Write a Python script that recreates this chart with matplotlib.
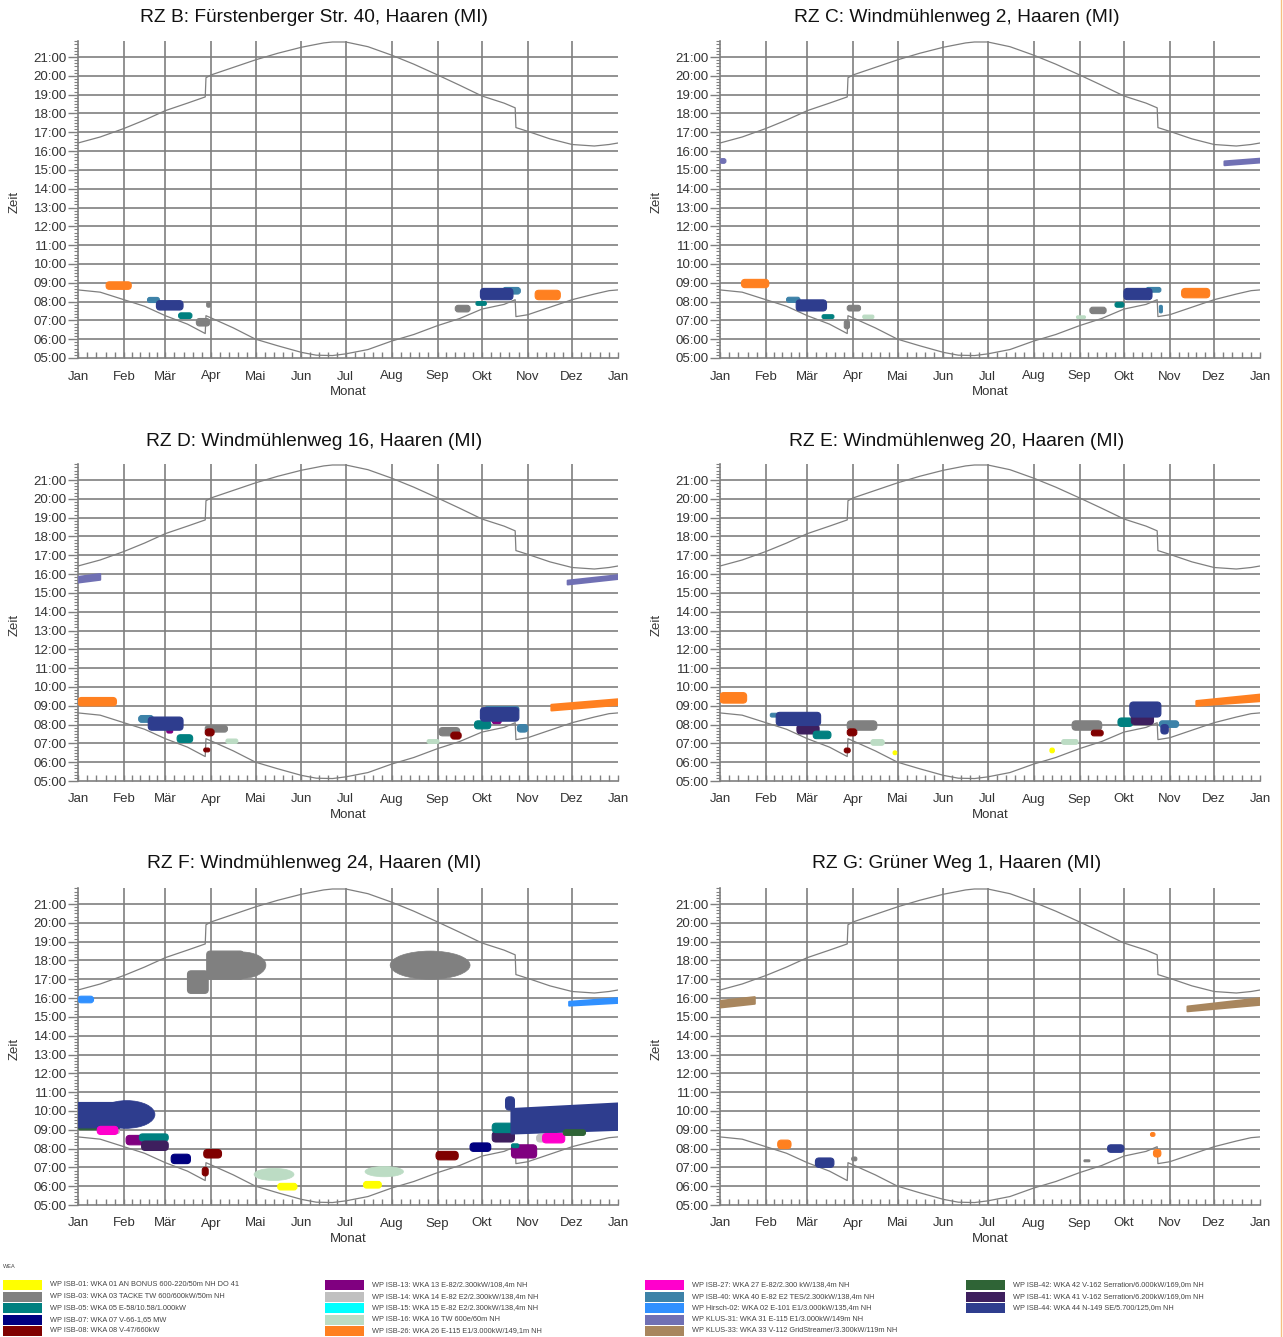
import matplotlib
matplotlib.use("Agg")
import matplotlib.pyplot as plt
from matplotlib.patches import Ellipse, Rectangle, FancyBboxPatch
from matplotlib.ticker import FixedLocator, MultipleLocator, FuncFormatter

plt.rcParams["font.family"] = ["Liberation Sans", "DejaVu Sans"]

W, H = 1283, 1337

MONTH_STARTS = [0, 31, 59, 90, 120, 151, 181, 212, 243, 273, 304, 334, 365]
MONTH_LABELS = ["Jan", "Feb", "Mär", "Apr", "Mai", "Jun", "Jul", "Aug",
                "Sep", "Okt", "Nov", "Dez", "Jan"]

# sunrise / sunset (day of year, decimal hour); duplicated days are the DST switches
SUNRISE_DAY = [0, 15, 31, 45, 59, 74, 86, 86.5, 90, 105, 120, 135, 151, 161, 172,
               181, 196, 212, 227, 243, 258, 273, 288, 295.5, 296, 304, 319, 334,
               349, 359, 365]
SUNRISE_H = [8.62, 8.5, 8.1, 7.75, 7.25, 6.8, 6.3, 7.25, 7.13, 6.6, 6.0, 5.65,
             5.3, 5.15, 5.13, 5.22, 5.45, 5.9, 6.25, 6.72, 7.1, 7.6, 7.85, 8.1,
             7.2, 7.3, 7.7, 8.1, 8.4, 8.58, 8.62]
SUNSET_DAY = [0, 15, 31, 45, 59, 74, 86, 86.5, 90, 105, 120, 135, 151, 166, 172,
              181, 196, 212, 227, 243, 258, 273, 288, 295.5, 296, 304, 319, 334,
              349, 359, 365]
SUNSET_H = [16.43, 16.75, 17.2, 17.65, 18.15, 18.55, 18.88, 19.9, 20.05, 20.45,
            20.85, 21.2, 21.52, 21.75, 21.8, 21.8, 21.55, 21.1, 20.62, 20.05,
            19.5, 18.93, 18.55, 18.3, 17.25, 17.05, 16.65, 16.35, 16.27, 16.35,
            16.43]

TURBINES = [
    ("01", "#ffff00", "WP ISB-01: WKA 01 AN BONUS 600-220/50m NH DO 41"),
    ("03", "#808080", "WP ISB-03: WKA 03 TACKE TW 600/600kW/50m NH"),
    ("05", "#008080", "WP ISB-05: WKA 05 E-58/10.58/1.000kW"),
    ("07", "#000080", "WP ISB-07: WKA 07 V-66-1,65 MW"),
    ("08", "#800000", "WP ISB-08: WKA 08 V-47/660kW"),
    ("13", "#800080", "WP ISB-13: WKA 13 E-82/2.300kW/108,4m NH"),
    ("14", "#c0c0c0", "WP ISB-14: WKA 14 E-82 E2/2.300kW/138,4m NH"),
    ("15", "#00ffff", "WP ISB-15: WKA 15 E-82 E2/2.300kW/138,4m NH"),
    ("16", "#bcdcc4", "WP ISB-16: WKA 16 TW 600e/60m NH"),
    ("26", "#ff8020", "WP ISB-26: WKA 26 E-115 E1/3.000kW/149,1m NH"),
    ("27", "#ff00cc", "WP ISB-27: WKA 27 E-82/2.300 kW/138,4m NH"),
    ("40", "#3d82a8", "WP ISB-40: WKA 40 E-82 E2 TES/2.300kW/138,4m NH"),
    ("H02", "#3090ff", "WP Hirsch-02: WKA 02 E-101 E1/3.000kW/135,4m NH"),
    ("K31", "#7070b4", "WP KLUS-31: WKA 31 E-115 E1/3.000kW/149m NH"),
    ("K33", "#a8865e", "WP KLUS-33: WKA 33 V-112 GridStreamer/3.300kW/119m NH"),
    ("42", "#2f6436", "WP ISB-42: WKA 42 V-162 Serration/6.000kW/169,0m NH"),
    ("41", "#3e1f5e", "WP ISB-41: WKA 41 V-162 Serration/6.200kW/169,0m NH"),
    ("44", "#2e3d8e", "WP ISB-44: WKA 44 N-149 SE/5.700/125,0m NH"),
]
COLORS = {k: c for k, c, _ in TURBINES}

# shadow periods: (shape, turbine, first day, last day, from h, to h[, from h end, to h end])
blobs_b = [
    ("box", "26", 19, 36, 8.65, 9.05),
    ("box", "40", 47, 55, 7.95, 8.22),
    ("box", "44", 53, 71, 7.55, 8.05),
    ("box", "05", 68, 77, 7.1, 7.4),
    ("box", "03", 80, 89, 6.7, 7.1),
    ("box", "03", 87, 89.5, 7.7, 8.0),
    ("box", "03", 255, 265, 7.45, 7.8),
    ("box", "05", 269, 276, 7.8, 8.0),
    ("box", "40", 287, 299, 8.4, 8.75),
    ("box", "44", 272, 294, 8.1, 8.7),
    ("box", "26", 309, 326, 8.1, 8.6),
]
blobs_c = [
    ("box", "K31", 0, 4, 15.35, 15.6),
    ("box", "K31", 341, 366, 15.25, 15.45, 15.4, 15.6),
    ("box", "26", 14.5, 33, 8.74, 9.18),
    ("box", "40", 45, 54, 7.96, 8.23),
    ("box", "44", 51.5, 72, 7.5, 8.09),
    ("box", "05", 69, 77, 7.1, 7.3),
    ("box", "03", 86, 95, 7.5, 7.8),
    ("box", "03", 84, 87.5, 6.55, 7.0),
    ("box", "16", 96.5, 104, 7.1, 7.28),
    ("box", "16", 241, 247, 7.1, 7.24),
    ("box", "03", 250, 261, 7.36, 7.7),
    ("box", "05", 267, 273, 7.7, 7.96),
    ("box", "40", 288, 298, 8.5, 8.75),
    ("box", "44", 273, 292, 8.1, 8.7),
    ("box", "40", 297, 299, 7.4, 7.8),
    ("box", "26", 312, 331, 8.2, 8.7),
]
blobs_d = [
    ("box", "K31", 0, 15, 15.55, 15.85, 15.7, 16.0),
    ("box", "K31", 331, 366, 15.45, 15.65, 15.75, 15.95),
    ("box", "26", 0, 26, 8.99, 9.44),
    ("box", "26", 320, 366, 8.75, 9.05, 9.05, 9.35),
    ("box", "40", 41, 51, 8.12, 8.48),
    ("box", "13", 60, 64, 7.55, 7.75),
    ("box", "44", 47.5, 71, 7.7, 8.4),
    ("box", "05", 67, 77.5, 7.05, 7.46),
    ("box", "08", 85, 89, 6.55, 6.75),
    ("box", "03", 86, 101, 7.6, 7.95),
    ("box", "08", 86, 92, 7.4, 7.77),
    ("box", "16", 100, 108, 7.0, 7.23),
    ("box", "16", 236, 244, 7.0, 7.2),
    ("box", "03", 244, 258, 7.4, 7.84),
    ("box", "08", 252, 259, 7.23, 7.6),
    ("box", "05", 268, 279, 7.77, 8.2),
    ("box", "40", 275, 298, 8.7, 8.95),
    ("box", "13", 280, 286, 8.05, 8.3),
    ("box", "44", 272, 298, 8.18, 8.9),
    ("box", "40", 297, 304, 7.6, 8.0),
]
blobs_e = [
    ("box", "26", 0, 18, 9.14, 9.7),
    ("box", "26", 322, 366, 9.0, 9.25, 9.25, 9.6),
    ("box", "40", 34, 47, 8.4, 8.6),
    ("box", "41", 52, 67, 7.5, 8.0),
    ("box", "44", 38, 68, 7.95, 8.65),
    ("box", "05", 63, 75, 7.25, 7.65),
    ("box", "03", 86, 106, 7.7, 8.2),
    ("box", "08", 86, 92.5, 7.4, 7.77),
    ("box", "08", 84, 88, 6.5, 6.75),
    ("box", "16", 102, 111, 6.9, 7.2),
    ("box", "01", 117, 119.5, 6.4, 6.6),
    ("box", "01", 223, 226, 6.5, 6.75),
    ("box", "16", 231, 242, 6.95, 7.2),
    ("box", "03", 238, 258, 7.7, 8.2),
    ("box", "08", 251, 259, 7.4, 7.7),
    ("box", "05", 269, 279, 7.9, 8.35),
    ("box", "41", 278, 293, 8.0, 8.55),
    ("box", "44", 277, 298, 8.4, 9.2),
    ("box", "40", 297, 310, 7.85, 8.2),
    ("box", "44", 298, 303, 7.5, 8.0),
]
blobs_f = [
    ("box", "H02", 0, 10.5, 15.75, 16.1),
    ("box", "H02", 332, 366, 15.6, 15.8, 15.75, 16.0),
    ("box", "03", 74, 88, 16.25, 17.45),
    ("box", "03", 87, 112, 17.0, 18.5),
    ("oval", "03", 95, 127, 17.05, 18.45),
    ("oval", "03", 211, 265, 17.0, 18.5),
    ("box", "42", 0, 28, 9.0, 9.27),
    ("box", "44", -5, 36, 9.1, 10.45),
    ("oval", "44", 14, 52, 9.08, 10.55),
    ("box", "14", 24, 28, 8.8, 9.0),
    ("box", "27", 13, 27, 8.75, 9.18),
    ("box", "13", 32.5, 48, 8.2, 8.7),
    ("box", "05", 41.5, 61, 8.4, 8.78),
    ("box", "41", 43, 61, 7.9, 8.4),
    ("box", "07", 63, 76, 7.2, 7.7),
    ("box", "08", 85, 97, 7.5, 7.95),
    ("box", "08", 84, 88, 6.55, 7.0),
    ("oval", "16", 119, 146, 6.3, 6.95),
    ("box", "01", 135, 148, 5.8, 6.15),
    ("box", "01", 193, 205, 5.9, 6.25),
    ("oval", "16", 194, 220, 6.5, 7.05),
    ("box", "08", 242, 257, 7.4, 7.85),
    ("box", "07", 265, 279, 7.85, 8.3),
    ("box", "41", 280, 295, 8.35, 8.9),
    ("box", "05", 280, 295, 8.85, 9.35),
    ("box", "44", 289, 295, 10.05, 10.75),
    ("box", "44", 293, 366, 8.8, 10.1, 9.0, 10.4),
    ("box", "13", 293, 310, 7.5, 8.2),
    ("box", "05", 293, 298, 8.05, 8.25),
    ("box", "14", 310, 316, 8.35, 8.75),
    ("box", "27", 314, 329, 8.3, 8.8),
    ("box", "42", 328, 343, 8.7, 9.0),
]
blobs_g = [
    ("box", "K33", 0, 23.5, 15.5, 15.85, 15.7, 16.05),
    ("box", "K33", 316, 366, 15.3, 15.55, 15.65, 16.0),
    ("box", "26", 39, 48, 8.0, 8.45),
    ("box", "44", 64.5, 77, 7.0, 7.5),
    ("box", "03", 89, 92.5, 7.35, 7.55),
    ("box", "03", 246, 250, 7.3, 7.4),
    ("box", "44", 262, 273, 7.8, 8.2),
    ("box", "26", 291, 294, 8.65, 8.85),
    ("box", "26", 293, 298, 7.55, 7.95),
]

PANELS = [
    ("RZ B: Fürstenberger Str. 40, Haaren (MI)", blobs_b),
    ("RZ C: Windmühlenweg 2, Haaren (MI)", blobs_c),
    ("RZ D: Windmühlenweg 16, Haaren (MI)", blobs_d),
    ("RZ E: Windmühlenweg 20, Haaren (MI)", blobs_e),
    ("RZ F: Windmühlenweg 24, Haaren (MI)", blobs_f),
    ("RZ G: Grüner Weg 1, Haaren (MI)", blobs_g),
]

GRID = "#7f7f7f"
TXT = "#333333"
Y_TOP = 21.85
PX_PER_H = 18.81
AX_W = 540
# hours per pixel over days per pixel, keeps box corners round on screen
ASPECT = (1 / PX_PER_H) / (365 / AX_W)


def draw_blob(ax, blob):
    shape, key, d0, d1, lo, hi = blob[:6]
    color = COLORS[key]
    if shape == "oval":
        ax.add_patch(Ellipse(((d0 + d1) / 2, (lo + hi) / 2), d1 - d0, hi - lo,
                             facecolor=color, edgecolor=color, lw=0.5, zorder=4))
    elif len(blob) == 8:
        lo1, hi1 = blob[6], blob[7]
        ax.fill([d0, d1, d1, d0], [lo, lo1, hi1, hi], facecolor=color,
                edgecolor=color, lw=1.5, joinstyle="round", zorder=4)
    else:
        r = min(2.5, 0.45 * (d1 - d0), 0.45 * (hi - lo) / ASPECT)
        ax.add_patch(FancyBboxPatch((d0, lo), d1 - d0, hi - lo,
                                    boxstyle=f"round,pad=0,rounding_size={r}",
                                    mutation_aspect=ASPECT, facecolor=color,
                                    edgecolor=color, lw=0.8, zorder=4))


def setup_axes(ax):
    ax.set_xlim(0, 365)
    ax.set_ylim(5, Y_TOP)
    for side in ("top", "right"):
        ax.spines[side].set_visible(False)
    for side in ("left", "bottom"):
        ax.spines[side].set_color(GRID)
        ax.spines[side].set_linewidth(1.2)

    for d in MONTH_STARTS[1:-1]:
        ax.axvline(d, color=GRID, lw=1.2, zorder=1)
    for h in range(6, 22):
        ax.axhline(h, color=GRID, lw=1.2, zorder=1)

    ax.xaxis.set_major_locator(FixedLocator(MONTH_STARTS))
    ax.set_xticklabels(MONTH_LABELS)
    minor = []
    for a, b in zip(MONTH_STARTS[:-1], MONTH_STARTS[1:]):
        minor += [a + (b - a) * k / 5 for k in range(1, 5)]
    ax.xaxis.set_minor_locator(FixedLocator(minor))
    ax.tick_params(axis="x", which="both", direction="in", length=4,
                   color=GRID, width=1.0, pad=9, labelsize=9.5, labelcolor=TXT)

    ax.yaxis.set_major_locator(FixedLocator(range(5, 22)))
    ax.yaxis.set_major_formatter(FuncFormatter(lambda v, p: f"{int(v):02d}:00"))
    ax.yaxis.set_minor_locator(MultipleLocator(1 / 6))
    ax.tick_params(axis="y", which="major", direction="out", length=7,
                   color=GRID, width=1.0, pad=1, labelsize=9.5, labelcolor=TXT)
    ax.tick_params(axis="y", which="minor", direction="out", length=3,
                   color=GRID, width=0.8)


fig = plt.figure(figsize=(W / 100, H / 100), dpi=100)
fig.patch.set_facecolor("white")

# pixel canvas for titles, axis labels and the legend
canvas = fig.add_axes([0, 0, 1, 1])
canvas.set_xlim(0, W)
canvas.set_ylim(H, 0)
canvas.axis("off")

col_left = [78, 720]
row_bottom = [358, 781, 1205]
title_x = [314, 957]
title_y = [18, 441, 864]
ax_h = (Y_TOP - 5) * PX_PER_H

for i, (title, blobs) in enumerate(PANELS):
    r, c = divmod(i, 2)
    x0 = col_left[c]
    yb = row_bottom[r]
    ax = fig.add_axes([x0 / W, 1 - yb / H, AX_W / W, ax_h / H])
    ax.patch.set_alpha(0)
    setup_axes(ax)
    ax.plot(SUNRISE_DAY, SUNRISE_H, color=GRID, lw=0.9, zorder=3)
    ax.plot(SUNSET_DAY, SUNSET_H, color=GRID, lw=0.9, zorder=3)
    for blob in blobs:
        draw_blob(ax, blob)

    canvas.text(title_x[c], title_y[r], title, ha="center", va="center",
                fontsize=13.8, color="#111111")
    canvas.text(x0 - 63, yb - ax_h / 2 + 2, "Zeit", rotation=90, ha="center",
                va="center", fontsize=9.5, color=TXT)
    canvas.text(x0 + AX_W / 2, yb + 34, "Monat", ha="center", va="center",
                fontsize=9.5, color=TXT)

# legend block
canvas.text(3, 1267, "WEA", ha="left", va="center", fontsize=4, color="#444444")
leg_cols = [3, 325, 645, 966]
for j, (key, color, label) in enumerate(TURBINES):
    col, row = divmod(j, 5)
    x = leg_cols[col]
    y = 1285 + row * 11.5
    canvas.add_patch(Rectangle((x, y - 5), 39, 10, facecolor=color,
                               edgecolor="none"))
    canvas.text(x + 47, y, label, ha="left", va="center", fontsize=5.3,
                color="#444444")

canvas.axvline(1281, color="#f3b060", lw=1.0, alpha=0.8)

fig.savefig("out.png", dpi=100)
